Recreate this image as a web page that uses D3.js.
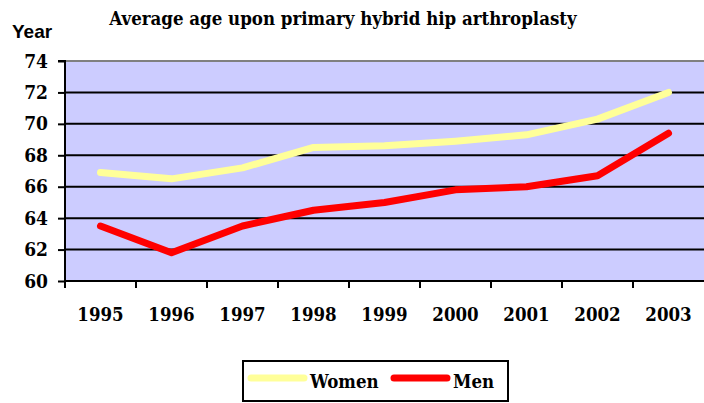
<!DOCTYPE html>
<html><head><meta charset="utf-8">
<script src="https://cdn.jsdelivr.net/npm/d3@7/dist/d3.min.js"></script>
<style>body{margin:0;background:#fff;}svg{display:block;}
.serif{font-family:"DejaVu Serif Condensed","DejaVu Serif",serif;font-weight:bold;}
.sans{font-family:"Liberation Sans",Arial,sans-serif;font-weight:bold;}
</style>
</head><body>
<script>
const years = ["1995","1996","1997","1998","1999","2000","2001","2002","2003"];
const women = [66.9, 66.5, 67.2, 68.5, 68.6, 68.9, 69.3, 70.3, 72.0];
const men = [63.5, 61.8, 63.5, 64.5, 65.0, 65.8, 66.0, 66.7, 69.4];
const yTicks = [60, 62, 64, 66, 68, 70, 72, 74];
const seriesNames = ["Women", "Men"];
const seriesColors = ["#FFFF99", "#FF0000"];

const W = 704, H = 403;
const L = 65, R = 704, T = 61, B = 281;
const svg = d3.select("body").append("svg").attr("width", W).attr("height", H);

const x = d3.scaleBand().domain(years).range([L, R]);
const y = d3.scaleLinear().domain([60, 74]).range([B, T]);

svg.append("rect").attr("x", L).attr("y", T).attr("width", R - L).attr("height", B - T).attr("fill", "#CCCCFF");

svg.append("g").selectAll("line").data(yTicks.filter(v => v > 60 && v < 74)).join("line")
  .attr("x1", L).attr("x2", R).attr("y1", d => y(d)).attr("y2", d => y(d))
  .attr("stroke", "#000").attr("stroke-width", 2);
svg.append("line").attr("x1", L).attr("x2", R).attr("y1", y(74)).attr("y2", y(74))
  .attr("stroke", "#808080").attr("stroke-width", 2);

const ya = svg.append("g").attr("transform", `translate(${L},0)`)
  .call(d3.axisLeft(y).tickValues(yTicks).tickSize(7).tickPadding(10).tickFormat(d3.format("d")));
ya.attr("font-family", null).attr("font-size", null);
ya.select(".domain").attr("stroke", "#000").attr("stroke-width", 2).attr("d", `M-7,${y(74)}H0V${B}`);
ya.selectAll(".tick line").attr("stroke", "#000").attr("stroke-width", 2);
ya.selectAll(".tick text").attr("class", "serif").style("font-size", "19px").attr("fill", "#000");

const xa = svg.append("g").attr("transform", `translate(0,${B})`)
  .call(d3.axisBottom(x).tickSize(0).tickPadding(27));
xa.attr("font-family", null).attr("font-size", null);
xa.select(".domain").attr("stroke", "#000").attr("stroke-width", 2).attr("d", `M${L},0H${R}`);
xa.selectAll(".tick text").attr("class", "serif").style("font-size", "18.5px").attr("fill", "#000");
svg.append("g").selectAll("line").data(years).join("line")
  .attr("x1", d => x(d)).attr("x2", d => x(d)).attr("y1", B).attr("y2", B + 7)
  .attr("stroke", "#000").attr("stroke-width", 2);

const line = d3.line().x((d, i) => x(years[i]) + x.bandwidth() / 2).y(d => y(d));
[women, men].forEach((s, i) => {
  svg.append("path").attr("d", line(s)).attr("fill", "none")
    .attr("stroke", seriesColors[i]).attr("stroke-width", 7)
    .attr("stroke-linecap", "round").attr("stroke-linejoin", "round");
});

svg.append("text").attr("x", 343).attr("y", 25).attr("text-anchor", "middle")
  .attr("class", "serif").style("font-size", "18.5px").text("Average age upon primary hybrid hip arthroplasty");
svg.append("text").attr("x", 12).attr("y", 38)
  .attr("class", "sans").style("font-size", "19px").text("Year");

const lg = svg.append("g");
lg.append("rect").attr("x", 243).attr("y", 361).attr("width", 265).attr("height", 40)
  .attr("fill", "#fff").attr("stroke", "#000").attr("stroke-width", 2);
const lx = [248, 391];
seriesNames.forEach((n, i) => {
  lg.append("line").attr("x1", lx[i] + 3).attr("x2", lx[i] + 56).attr("y1", 378).attr("y2", 378)
    .attr("stroke", seriesColors[i]).attr("stroke-width", 7).attr("stroke-linecap", "round");
  lg.append("text").attr("x", lx[i] + 62).attr("y", 388)
    .attr("class", "serif").style("font-size", "18.5px").text(n);
});
</script>
</body></html>
